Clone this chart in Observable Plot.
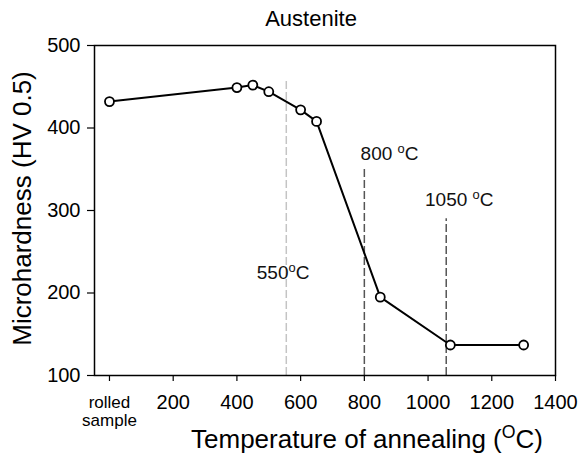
<!DOCTYPE html>
<html><head><meta charset="utf-8">
<script src="https://cdn.jsdelivr.net/npm/d3@7"></script>
<script src="https://cdn.jsdelivr.net/npm/@observablehq/plot@0.6"></script>
<style>
body{margin:0;background:#fff;font-family:"Liberation Sans",Arial,sans-serif;}
</style></head>
<body><div id="chart"></div>
<script>
const temps = [0, 400, 450, 500, 600, 650, 850, 1070, 1300];
const hardness = [432, 449, 452, 444, 422, 408, 195, 137, 137];
const xTicks = [200, 400, 600, 800, 1000, 1200, 1400];
const yTicks = [100, 200, 300, 400, 500];
const rolledLabel = "rolled\nsample";
const markerX = [555, 800, 1057];
const markerTop = [460, 353, 290];
const markerColor = ["#c4c4c4", "#555555", "#555555"];
const markerLabels = ["550°C", "800 °C", "1050 °C"];
const labelX = [545, 879, 1098];
const labelY = [224, 369, 313];

const data = temps.map((t, i) => ({t, h: hardness[i]}));
const markers = markerX.map((x, i) => ({x, top: markerTop[i], c: markerColor[i], label: markerLabels[i], lx: labelX[i], ly: labelY[i]}));

const chart = Plot.plot({
  width: 580, height: 457,
  marginLeft: 94, marginRight: 25, marginTop: 45, marginBottom: 82,
  style: {fontFamily: "Liberation Sans, Arial, sans-serif", background: "#fff", color: "#000"},
  x: {domain: [-47, 1400]},
  y: {domain: [100, 500]},
  marks: [
    Plot.ruleX(markers, {x: "x", y1: 100, y2: "top", stroke: "c", strokeWidth: 1.5, strokeDasharray: "8,3"}),
    Plot.text(markers, {x: "lx", y: "ly", text: "label", fontSize: 19, fill: "#111"}),
    Plot.line(data, {x: "t", y: "h", stroke: "#000", strokeWidth: 2}),
    Plot.dot(data, {x: "t", y: "h", r: 4.5, fill: "#fff", stroke: "#000", strokeWidth: 1.8}),
    Plot.frame({stroke: "#000", strokeWidth: 1.5}),
    Plot.axisY(yTicks, {tickSize: 7, tickPadding: 7, fontSize: 20, label: null, strokeWidth: 1.2, tickFormat: d3.format("d")}),
    Plot.axisX(xTicks, {tickSize: 6, tickPadding: 13, fontSize: 20, label: null, strokeWidth: 1.2, tickFormat: d3.format("d")}),
    Plot.axisX([0], {tickSize: 6, tickPadding: 13, fontSize: 17, label: null, strokeWidth: 1.2, tickFormat: () => rolledLabel, lineHeight: 1.1}),
    Plot.text(["Austenite"], {frameAnchor: "top", lineAnchor: "middle", dx: -14, dy: -27, text: d => d, fontSize: 22, fill: "#000"}),
    Plot.text(["Temperature of annealing (°C)"], {frameAnchor: "bottom", lineAnchor: "middle", dx: 42, dy: 64, text: d => d, fontSize: 26, fill: "#000"}),
    Plot.text(["Microhardness (HV 0.5)"], {frameAnchor: "left", textAnchor: "middle", lineAnchor: "middle", dx: -72, dy: -2, rotate: -90, text: d => d, fontSize: 26, fill: "#000"})
  ]
});
// render the degree marks as a raised small "o", as in the reference
chart.querySelectorAll("text").forEach(t => {
  if (t.children.length === 0 && t.textContent.includes("°")) {
    const parts = t.textContent.split("°");
    t.textContent = "";
    const ns = "http://www.w3.org/2000/svg";
    t.appendChild(document.createTextNode(parts[0]));
    const sup = document.createElementNS(ns, "tspan");
    sup.setAttribute("font-size", "68%");
    sup.setAttribute("baseline-shift", "super");
    sup.textContent = t.textContent.length >= 0 && parts[0].includes("Temperature") ? "O" : "o";
    t.appendChild(sup);
    t.appendChild(document.createTextNode(parts[1]));
  }
});
document.getElementById("chart").appendChild(chart);
</script>
</body></html>
